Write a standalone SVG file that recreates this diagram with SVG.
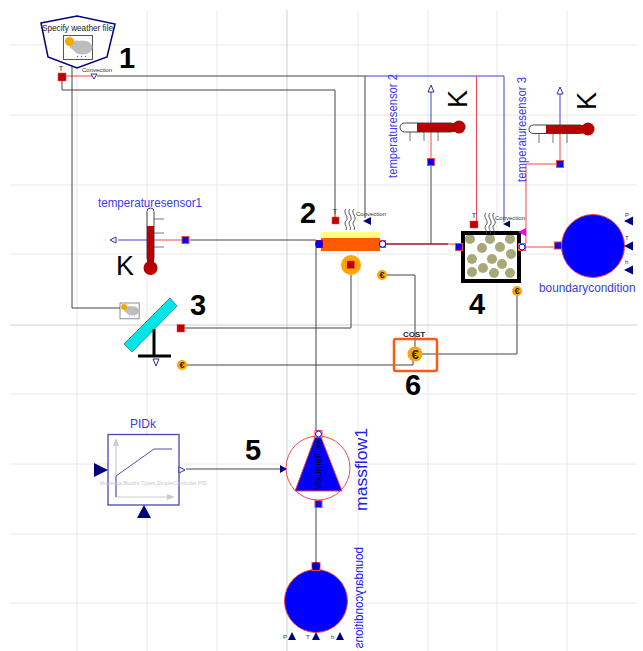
<svg xmlns="http://www.w3.org/2000/svg" width="643" height="651" viewBox="0 0 643 651">
<style>
text{font-family:"Liberation Sans",Arial,sans-serif}
.g{stroke:#e8e8e8;stroke-width:1;fill:none}
.g2{stroke:#cfcfcf;stroke-width:1;fill:none}
.k{stroke:#444;stroke-width:1;fill:none}
.r{stroke:#f0484f;stroke-width:1;fill:none}
.dr{stroke:#a01020;stroke-width:1.5;fill:none}
.b{stroke:#4040c8;stroke-width:1;fill:none}
.lbl{fill:#3a3af0;font-size:12.5px}
.num{font-size:29px;font-weight:bold;fill:#000;text-anchor:middle}
.tiny{font-size:6px;fill:#333}
.kk{font-size:27px;fill:#000}
.wave{stroke:#444;stroke-width:.9;fill:none}
.euroC{fill:#ffa500}
.euroT{fill:#222;font-weight:bold;text-anchor:middle}
.port{fill:#00f;stroke:#f0484f;stroke-width:1}
.wport{fill:#fff;stroke:#00f;stroke-width:1}
.rs{fill:#c00000;stroke:#f0484f;stroke-width:.5}
.navy{fill:#000080}
.wtri{fill:#fff;stroke:#3030a0;stroke-width:1}
.therm{fill:#fff;stroke:#444;stroke-width:1}
.red{fill:#b80000}
.tick{stroke:#777;stroke-width:1}
.pebble{fill:#a8a878}
</style>
<defs>
<g id="weather">
<rect x="0" y="0" width="29" height="24" fill="#fff" stroke="#555" stroke-width="1"/>
<ellipse cx="19" cy="12" rx="10" ry="7" fill="#bdbdbd"/><ellipse cx="13" cy="10" rx="7" ry="5" fill="#bdbdbd"/>
<circle cx="6" cy="6" r="4.5" fill="#ffa500"/>
<circle cx="14" cy="21" r=".7" fill="#5060e0"/><circle cx="18" cy="21" r=".7" fill="#5060e0"/><circle cx="22" cy="21" r=".7" fill="#5060e0"/>
</g>
<path id="wave3" d="M0 0c-4 4 4 8 0 12c-3 3 2 6 0 9M4 0c-4 4 4 8 0 12c-3 3 2 6 0 9M8 0c-4 4 4 8 0 12c-3 3 2 6 0 9" class="wave"/>
</defs>
<g id="grid">
<path class="g" d="M10 45H637M10 115H637M10 185H637M10 254H637M10 394H637M10 464H637M10 534H637M10 603H637"/>
<path class="g" d="M77 10V651M147 10V651M217 10V651M358 10V651M428 10V651M497 10V651M567 10V651"/>
<path class="g2" d="M10 325H637M287 10V651"/>
</g>
<g id="connectors">
<path class="r" d="M66 76H92"/>
<path class="k" d="M97 76H365V218"/>
<path class="b" d="M365 76H504V222"/>
<path class="r" d="M476.500 76V221"/>
<path class="k" d="M62 80V90H335V217"/>
<path class="k" d="M72 59V308H120"/>
<path class="b" d="M118 240H147"/>
<path class="r" d="M154 240H183"/>
<path class="k" d="M190 240H316V430"/>
<path class="k" d="M316 508V562"/>
<path class="dr" d="M386 244H448"/>
<path class="r" d="M448 244H455"/>
<path class="k" d="M431 166V244"/>
<path class="b" d="M431 92V123"/>
<path class="r" d="M431 132V158"/>
<path class="b" d="M560 94V125"/>
<path class="r" d="M560 133V160"/>
<path class="r" d="M556 164H526V243"/>
<path class="r" d="M526 247H554"/>
<path class="k" d="M184 328H351V275"/>
<path class="k" d="M387 275H415V347"/>
<path class="k" d="M422 354H517V296"/>
<path class="k" d="M187 365H413V358"/>
<path class="k" d="M186 469H280"/>
</g>
<g id="weather-data">
<polygon points="41,23 77,16 115,24 107,57 77,68 48,57" fill="#fff" stroke="#000080" stroke-width="1.500"/>
<text x="42" y="31" font-size="9.500" fill="#222" textLength="71" lengthAdjust="spacingAndGlyphs">Specify weather file</text>
<use href="#weather" x="63.500" y="35.500"/>
<rect class="rs" x="58" y="73" width="8" height="8"/>
<text x="61" y="71" font-size="8" text-anchor="middle" fill="#333">T</text>
<polygon class="wtri" points="91,74 97,74 94,79"/>
<text class="tiny" x="82" y="72">Convection</text>
<text class="num" x="127" y="68">1</text>
</g>
<g id="temperaturesensor1">
<text class="lbl" x="98" y="207" textLength="104" lengthAdjust="spacingAndGlyphs">temperaturesensor1</text>
<path class="tick" d="M154 219H164M154 233H164M154 247H164"/>
<rect class="therm" x="147" y="208" width="7" height="54" rx="3.500"/>
<rect class="red" x="147" y="226" width="7" height="38"/>
<circle class="red" cx="150.500" cy="268" r="7"/>
<polygon class="wtri" points="110,240 116,237 116,243"/>
<rect x="182" y="236.500" width="7" height="7" fill="#00f" stroke="#f0484f"/>
<text class="kk" x="116" y="275">K</text>
</g>
<g id="pipe">
<rect x="321" y="232" width="59" height="6" fill="#ffff80"/>
<rect x="321" y="238" width="59" height="13" fill="#ff5a00"/>
<rect x="316" y="240" width="7" height="8" fill="#c00020"/>
<circle cx="319" cy="244" r="3.800" fill="#00f"/>
<rect x="379" y="240" width="7" height="8" fill="#f0484f"/>
<circle class="wport" cx="382.500" cy="244" r="3.200"/>
<circle cx="351" cy="265" r="10" fill="#ffa500"/>
<rect class="rs" x="347" y="261" width="7.500" height="7.500"/>
<rect class="rs" x="332" y="217" width="7" height="7"/>
<text x="335" y="214" font-size="8" text-anchor="middle" fill="#333">T</text>
<use href="#wave3" x="346" y="209"/>
<text class="tiny" x="356" y="216">Convection</text>
<polygon class="navy" points="363,221 371,217 371,225"/>
<text class="num" x="308" y="223">2</text>
<circle class="euroC" cx="382" cy="275" r="5"/><text class="euroT" x="382" y="278" font-size="9">€</text>
</g>
<g id="temperaturesensor2">
<text class="lbl" transform="translate(397,178) rotate(-90)" textLength="104" lengthAdjust="spacingAndGlyphs">temperaturesensor 2</text>
<path class="tick" d="M410 132V141M424 132V141M438 132V141"/>
<rect class="therm" x="400" y="123" width="55" height="9" rx="4.500"/>
<rect class="red" x="417" y="123" width="38" height="9"/>
<circle class="red" cx="459" cy="127" r="6.500"/>
<polygon class="wtri" points="431,85 428,92 434,92"/>
<rect x="427.500" y="158.500" width="7" height="7" fill="#00f" stroke="#f0484f"/>
<text class="kk" transform="translate(467,108) rotate(-90)">K</text>
</g>
<g id="temperaturesensor3">
<text class="lbl" transform="translate(526,182) rotate(-90)" textLength="105" lengthAdjust="spacingAndGlyphs">temperaturesensor 3</text>
<path class="tick" d="M539 133V143M553 133V143M567 133V143"/>
<rect class="therm" x="529" y="125" width="55" height="8.500" rx="4.200"/>
<rect class="red" x="546" y="125" width="38" height="8.500"/>
<circle class="red" cx="588" cy="129" r="6.500"/>
<polygon class="wtri" points="560,87 557,94 563,94"/>
<rect x="556.500" y="160.500" width="7" height="7" fill="#00f" stroke="#f0484f"/>
<text class="kk" transform="translate(596,110) rotate(-90)">K</text>
</g>
<g id="tank">
<rect x="463" y="233" width="56" height="48" fill="#fff"/>
<g class="pebble">
<circle cx="470" cy="239" r="5"/><circle cx="490" cy="239" r="5"/><circle cx="510" cy="239" r="5"/>
<circle cx="482" cy="248" r="5"/><circle cx="500" cy="247" r="5"/><circle cx="511" cy="254" r="5"/>
<circle cx="472" cy="259" r="5"/><circle cx="492" cy="259" r="5"/><circle cx="502" cy="264" r="5"/>
<circle cx="472" cy="272" r="5"/><circle cx="483" cy="268" r="5"/><circle cx="494" cy="273" r="5"/><circle cx="510" cy="273" r="5"/>
</g>
<rect x="463" y="233" width="56" height="48" fill="none" stroke="#000" stroke-width="4"/>
<rect x="455.500" y="243.500" width="7" height="7" fill="#00f" stroke="#f0484f"/>
<rect x="518.500" y="243.500" width="7" height="7" fill="#fff" stroke="#f0484f"/>
<circle class="wport" cx="522" cy="247" r="3"/>
<polygon points="518,232 526,228 526,236" fill="#f000f0"/>
<rect class="rs" x="470" y="221" width="8" height="7"/>
<text x="474" y="218" font-size="8" text-anchor="middle" fill="#333">T</text>
<use href="#wave3" x="486" y="213"/>
<text class="tiny" x="495" y="220">Convection</text>
<polygon class="navy" points="503,224 510,220.500 510,227.500"/>
<text class="num" x="477" y="314">4</text>
<circle class="euroC" cx="517" cy="291" r="5"/><text class="euroT" x="517" y="294" font-size="9">€</text>
</g>
<g id="boundarycondition">
<circle cx="593" cy="246" r="31.500" fill="#00f" stroke="#f0484f"/>
<rect x="554.500" y="242" width="7" height="7" fill="#00f" stroke="#f0484f"/>
<polygon class="navy" points="624,221 633,216.500 633,225.500"/>
<polygon class="navy" points="624,246 633,241.500 633,250.500"/>
<polygon class="navy" points="624,270 633,265.500 633,274.500"/>
<text class="tiny" x="625" y="217">P</text><text class="tiny" x="625" y="240">T</text><text class="tiny" x="625" y="264">h</text>
<text transform="translate(539,292) scale(.91,1)" font-size="13" fill="#3a3af0">boundarycondition</text>
</g>
<g id="collector">
<use href="#weather" transform="translate(120,303) scale(.66)"/>
<polygon points="170,298 177,306 132,352 124,344" fill="#00e5e5" stroke="#207070" stroke-width=".7"/>
<path d="M154 329V356M138 356H171" stroke="#000" stroke-width="3" fill="none"/>
<polygon class="wtri" points="153,359 159,359 156,366"/>
<rect class="rs" x="177" y="324.500" width="7.500" height="7.500"/>
<circle class="euroC" cx="182" cy="365" r="5"/><text class="euroT" x="182" y="368" font-size="9">€</text>
<text class="num" x="198" y="315">3</text>
</g>
<g id="cost">
<rect x="394" y="339" width="43" height="32" rx="2" fill="none" stroke="#ff5a14" stroke-width="2.500"/>
<circle class="euroC" cx="415" cy="354" r="7.500"/><text class="euroT" x="415" y="359" font-size="13">€</text>
<text x="414" y="337" font-size="8" font-weight="bold" text-anchor="middle" fill="#223">COST</text>
<text class="num" x="413" y="395">6</text>
</g>
<g id="PIDk">
<text x="143" y="428" font-size="12" text-anchor="middle" fill="#3a3af0">PIDk</text>
<rect x="108" y="434.500" width="71" height="70.500" fill="#fff" stroke="#4848b0" stroke-width="1.300"/>
<path d="M116 497V441M116 497H172" stroke="#ccc" stroke-width="1.200" fill="none"/>
<polygon points="116,438 113,446 119,446" fill="#ccc"/><polygon points="175,497 167,494 167,500" fill="#ccc"/>
<path d="M116 497V476L154 449H172" stroke="#5050b0" stroke-width="1" fill="none"/>
<text x="100" y="485" font-size="6" fill="#c8c8c8" textLength="107" lengthAdjust="spacingAndGlyphs">Modelica.Blocks.Types.SimpleController.PID</text>
<polygon class="navy" points="94,463 108,470 94,477"/>
<polygon class="navy" points="137,518 144,505 151,518"/>
<polygon class="wtri" points="179,467 185,470 179,473"/>
</g>
<g id="massflow1">
<circle cx="318" cy="468" r="32" fill="#fff" stroke="#f0484f"/>
<polygon points="315,437 321,437 342,491 295,491" fill="#00f" stroke="#f0484f"/>
<text transform="translate(321,490) rotate(-90)" font-size="9.500" fill="#000">VolumeFlow</text>
<rect x="315" y="430.500" width="7" height="7" fill="#fff" stroke="#f0484f"/>
<circle class="wport" cx="318.500" cy="434" r="3"/>
<rect x="315" y="500.500" width="7" height="7" fill="#00f" stroke="#f0484f"/>
<polygon class="navy" points="280,465 287,469 280,473"/>
<text transform="translate(367,511) rotate(-90)" font-size="16" fill="#2020e8" textLength="83" lengthAdjust="spacingAndGlyphs">massflow1</text>
<text class="num" x="253" y="460">5</text>
</g>
<g id="boundaryconditions">
<circle cx="316" cy="601" r="31.500" fill="#00f" stroke="#f0484f"/>
<rect x="312" y="562.500" width="8" height="8" fill="#0000d0" stroke="#f0484f"/>
<circle cx="316" cy="566" r="3.800" fill="#0000c0"/>
<polygon class="navy" points="292,632 288,640 296,640"/>
<polygon class="navy" points="316,632 312,640 320,640"/>
<polygon class="navy" points="340,632 336,640 344,640"/>
<text class="tiny" x="283" y="639">P</text><text class="tiny" x="306" y="639">T</text><text class="tiny" x="331" y="639">h</text>
<text transform="translate(363,547) rotate(90) scale(.9,-1)" font-size="13" fill="#2020e8">boundaryconditions</text>
</g>
</svg>
